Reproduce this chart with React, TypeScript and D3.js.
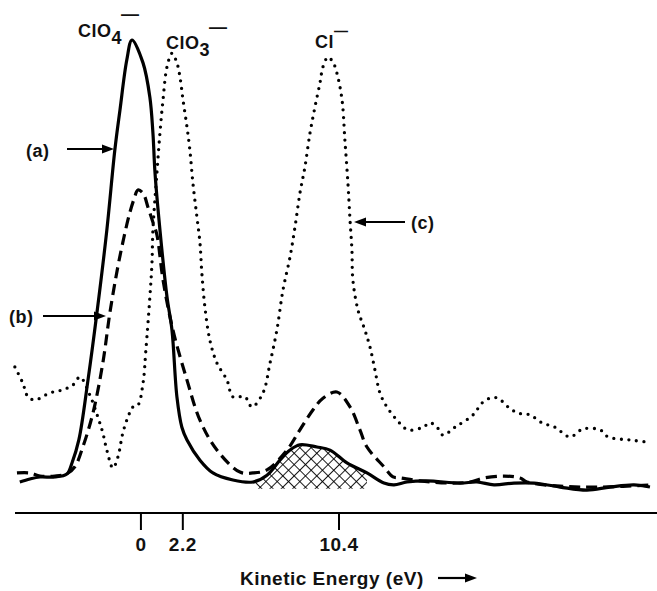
import * as d3 from 'd3'

const W = 657
const H = 591

// kinetic energy (eV) and relative intensity
const solidEv = [-6.36, -5.83, -5.3, -4.52, -3.89, -3.62, -3.26, -2.78, -2.31, -1.79, -1.37, -1.1, -0.74, -0.47, 0.11, 0.47, 0.63, 0.74, 1.0, 1.37, 1.63, 1.89, 2.15, 2.42, 3.1, 3.78, 4.83, 5.88, 6.62, 7.3, 7.83, 8.35, 9.24, 9.93, 10.82, 11.87, 12.76, 13.29, 13.97, 15.02, 16.75, 17.65, 18.54, 19.59, 20.64, 22.01, 23.42, 24.63, 25.89, 26.73]
const solidI = [-0.45, 0.23, 0.68, 0.68, 1.36, 3.86, 9.1, 22.7, 38.0, 56.8, 75, 84.1, 95.5, 100, 94.8, 87, 78.9, 69.8, 56.8, 41.6, 34.1, 18.9, 12.0, 9.1, 4.5, 1.6, 0, -0.45, 1.1, 4.5, 6.8, 8.0, 7.5, 6.8, 3.9, 1.6, -0.7, -1.1, -0.45, -0.2, -0.7, -0.45, -1.1, -0.7, -0.7, -1.6, -2.3, -1.6, -1.1, -1.6]

const dashedEv = [-6.51, -5.83, -5.3, -4.52, -3.89, -3.47, -3.05, -2.52, -2.0, -1.63, -1.21, -0.9, -0.6, -0.35, -0.16, 0.11, 0.37, 0.63, 0.84, 1.16, 1.68, 2.42, 3.1, 3.99, 5.2, 5.88, 6.62, 7.67, 8.35, 9.03, 9.56, 10.29, 10.98, 11.5, 11.87, 12.76, 13.24, 13.6, 14.65, 16.23, 17.28, 18.01, 19.07, 19.91, 20.27, 22.01, 24.11, 26.94]
const dashedI = [1.6, 1.6, 0.9, 0.9, 1.4, 3.0, 7.5, 15.2, 26.6, 38.0, 48.5, 55.0, 60.5, 64.0, 65.9, 65.2, 62.0, 58.6, 55.7, 45.5, 34.1, 22.7, 13.6, 6.8, 1.8, 1.6, 2.3, 6.8, 11.4, 15.9, 18.6, 20, 16.6, 11.4, 7.5, 3.0, 0.7, 0.5, -0.2, -0.7, -0.45, 0.45, 0.9, 0.45, -0.45, -1.4, -1.6, -1.1]

const dottedEv = [-6.62, -6.2, -5.93, -5.57, -4.78, -4.1, -3.57, -3.2, -2.68, -2.26, -2.0, -1.79, -1.47, -1.21, -0.95, -0.68, -0.42, -0.16, 0.11, 0.26, 0.47, 0.58, 0.63, 0.84, 1.0, 1.16, 1.37, 1.63, 1.89, 2.05, 2.21, 2.42, 2.57, 2.73, 2.94, 3.1, 3.2, 3.36, 3.62, 3.99, 4.52, 4.83, 5.46, 5.83, 6.41, 6.78, 7.14, 7.46, 7.83, 8.09, 8.35, 8.61, 8.88, 9.14, 9.4, 9.56, 9.82, 10.08, 10.29, 10.56, 10.71, 10.87, 10.98, 11.08, 11.13, 11.4, 11.76, 12.03, 12.29, 12.55, 12.92, 13.45, 14.02, 14.81, 15.18, 15.55, 15.86, 16.49, 17.44, 17.91, 18.33, 18.75, 19.28, 19.8, 20.43, 21.06, 21.74, 22.53, 23.21, 24.11, 24.53, 25.68, 26.63]
const dottedI = [25.7, 22.0, 18.9, 18.2, 19.8, 20.5, 21.6, 23.4, 19.3, 14.3, 10.7, 6.8, 2.7, 5.2, 10.7, 14.3, 16.6, 17.0, 22.0, 29.5, 41.6, 49.3, 56.8, 69.8, 78.9, 86.4, 93.9, 97.0, 94.8, 91.6, 86.4, 80.2, 75, 67.5, 59.8, 53.9, 47.0, 39.3, 31.8, 26.6, 22.7, 18.9, 18.9, 16.6, 19.8, 26.6, 34.1, 43.2, 50.7, 57.5, 65.2, 71.1, 78.9, 84.8, 90.2, 93.9, 96.1, 95, 92.5, 86.4, 77.3, 67.5, 59.1, 52.3, 45.5, 38.6, 34.1, 30.2, 25, 19.8, 16.6, 13.6, 11.4, 12.0, 13.0, 12.0, 10.2, 12.0, 14.8, 17.5, 18.6, 18.6, 16.6, 15.2, 14.8, 13.0, 12.0, 9.8, 11.6, 11.4, 9.8, 9.1, 8.6]

// cross-hatched Cl- band under trace (a)
const hatchRange = [5.7, 12.0]
const hatchBase = -2.0

const tickValues = [0, 2.2, 10.4]
const tickLabels = ['0', '2.2', '10.4']
const xTitle = 'Kinetic Energy (eV)'

const FONT = "'Liberation Sans', Arial, Helvetica, sans-serif"

const x = d3.scaleLinear().domain([-7.4, 27.1]).range([0, W])
const y = d3.scaleLinear().domain([0, 100]).range([480, 40])
const axisY = 513

const zip = (ev: number[], v: number[]) => ev.map((e, i) => ({ e, v: v[i] }))

const line = d3
  .line<{ e: number; v: number }>()
  .x((d) => x(d.e))
  .y((d) => y(d.v))
  .curve(d3.curveCatmullRom.alpha(0.5))

const area = d3
  .area<{ e: number; v: number }>()
  .x((d) => x(d.e))
  .y0(y(hatchBase))
  .y1((d) => y(d.v))
  .curve(d3.curveCatmullRom.alpha(0.5))

function Arrow({ x1, x2, yy }: { x1: number; x2: number; yy: number }) {
  const dir = Math.sign(x2 - x1)
  const head = 12
  return (
    <g>
      <line x1={x1} y1={yy} x2={x2 - dir * head} y2={yy} stroke="#000" strokeWidth={2.2} />
      <path d={`M${x2},${yy} L${x2 - dir * head},${yy - 4.5} L${x2 - dir * head},${yy + 4.5} Z`} fill="#000" />
    </g>
  )
}

export default function App() {
  const solid = zip(solidEv, solidI)
  const dashed = zip(dashedEv, dashedI)
  const dotted = zip(dottedEv, dottedI)
  const hatch = solid.filter((d) => d.e >= hatchRange[0] && d.e <= hatchRange[1])

  const txt = { fontFamily: FONT, fontWeight: 700, fill: '#111', letterSpacing: 0.5 } as const

  return (
    <svg
      width={W}
      height={H}
      style={{ position: 'absolute', left: 0, top: 0, background: '#fff' }}
    >
      <defs>
        <pattern id="xhatch" width={8} height={8} patternUnits="userSpaceOnUse" patternTransform="rotate(45)">
          <line x1={0} y1={0} x2={0} y2={8} stroke="#000" strokeWidth={1.8} />
          <line x1={0} y1={0} x2={8} y2={0} stroke="#000" strokeWidth={1.8} />
        </pattern>
      </defs>

      <path d={area(hatch) ?? ''} fill="url(#xhatch)" />

      <path d={line(dotted) ?? ''} fill="none" stroke="#000" strokeWidth={3.3} strokeLinecap="round" strokeDasharray="0 7.5" />
      <path d={line(dashed) ?? ''} fill="none" stroke="#000" strokeWidth={3.2} strokeDasharray="11 6" />
      <path d={line(solid) ?? ''} fill="none" stroke="#000" strokeWidth={3.2} strokeLinejoin="round" />

      {/* x axis */}
      <line x1={15} x2={W} y1={axisY} y2={axisY} stroke="#000" strokeWidth={2} />
      {tickValues.map((t, i) => (
        <g key={t} transform={`translate(${x(t)},0)`}>
          <line y1={axisY} y2={axisY + 17} stroke="#000" strokeWidth={2} />
          <text y={551} textAnchor="middle" fontSize={19} {...txt}>
            {tickLabels[i]}
          </text>
        </g>
      ))}
      <text x={240} y={585} fontSize={19} {...txt}>
        {xTitle}
      </text>
      <Arrow x1={438} x2={477} yy={578} />

      {/* peak labels */}
      <text x={78} y={37} fontSize={18} {...txt}>
        ClO<tspan dy={7}>4</tspan>
        <tspan dy={-24} dx={-1}>—</tspan>
      </text>
      <text x={166} y={49} fontSize={18} {...txt}>
        ClO<tspan dy={7}>3</tspan>
        <tspan dy={-23} dx={-1}>—</tspan>
      </text>
      <text x={315} y={48} fontSize={18} {...txt}>
        Cl<tspan dy={-12} fontSize={14}>—</tspan>
      </text>

      {/* trace labels */}
      <text x={26} y={157} fontSize={18} {...txt}>(a)</text>
      <Arrow x1={67} x2={114} yy={149} />
      <text x={9} y={323} fontSize={18} {...txt}>(b)</text>
      <Arrow x1={43} x2={106} yy={316} />
      <text x={411} y={229} fontSize={18} {...txt}>(c)</text>
      <Arrow x1={405} x2={354} yy={222} />
    </svg>
  )
}
